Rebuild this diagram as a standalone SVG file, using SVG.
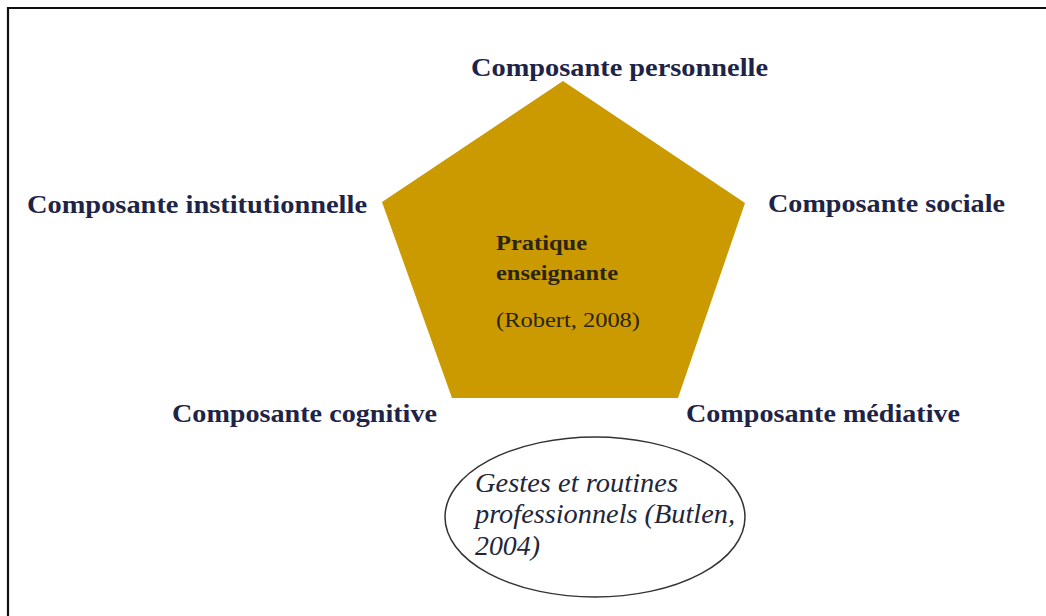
<svg xmlns="http://www.w3.org/2000/svg" width="1046" height="616" viewBox="0 0 1046 616">
<style>
.lbl{font-family:"Liberation Serif","Times New Roman",serif;font-weight:bold;font-size:25px;fill:#1e2447}
.inner{font-family:"Liberation Serif","Times New Roman",serif;font-size:21px;fill:#2a2410}
.ell{font-family:"Liberation Serif","Times New Roman",serif;font-style:italic;font-size:27px;fill:#22263a}
</style>
<rect width="1046" height="616" fill="#ffffff"/>
<path d="M8,616 V8 H1046" fill="none" stroke="#111" stroke-width="2.2"/>
<g id="pentagon">
<polygon points="563,81 745,203 678,398 452,398 382,202" fill="#CA9A00"/>
<text class="inner" x="496" y="250" font-weight="bold" textLength="91" lengthAdjust="spacingAndGlyphs">Pratique</text>
<text class="inner" x="496" y="280" font-weight="bold" textLength="122" lengthAdjust="spacingAndGlyphs">enseignante</text>
<text class="inner" x="496" y="327" textLength="144" lengthAdjust="spacingAndGlyphs">(Robert, 2008)</text>
</g>
<g id="label-personnelle"><text class="lbl" x="471" y="76" textLength="297" lengthAdjust="spacingAndGlyphs">Composante personnelle</text></g>
<g id="label-institutionnelle"><text class="lbl" x="27" y="213" textLength="340" lengthAdjust="spacingAndGlyphs">Composante institutionnelle</text></g>
<g id="label-sociale"><text class="lbl" x="768" y="212" textLength="237" lengthAdjust="spacingAndGlyphs">Composante sociale</text></g>
<g id="label-cognitive"><text class="lbl" x="172" y="422" textLength="265" lengthAdjust="spacingAndGlyphs">Composante cognitive</text></g>
<g id="label-mediative"><text class="lbl" x="686" y="422" textLength="274" lengthAdjust="spacingAndGlyphs">Composante médiative</text></g>
<g id="gestes">
<ellipse cx="595" cy="517" rx="150" ry="80" fill="none" stroke="#333" stroke-width="1.5"/>
<text class="ell" x="475" y="492" textLength="203" lengthAdjust="spacingAndGlyphs">Gestes et routines</text>
<text class="ell" x="475" y="523" textLength="260" lengthAdjust="spacingAndGlyphs">professionnels (Butlen,</text>
<text class="ell" x="475" y="555" textLength="65" lengthAdjust="spacingAndGlyphs">2004)</text>
</g>
<g id="connectors"></g>
</svg>
